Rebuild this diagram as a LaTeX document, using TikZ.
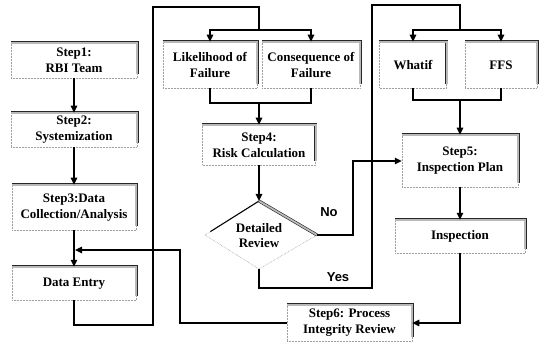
\documentclass[tikz,border=0pt]{standalone}
\usepackage{fontspec}
\setmainfont{Liberation Serif}
\newfontfamily\labfont{Liberation Sans}
\usetikzlibrary{arrows.meta,calc}
\tikzset{
  boxs/.style={rectangle, draw=gray!75, densely dotted, line width=0.5pt, align=center,
    inner sep=0pt, font=\bfseries\fontsize{13}{16}\selectfont},
  bar/.style={draw=black!85, line width=0.6pt, double=gray!55, double distance=1.8pt, solid},
  lin/.style={draw=black, line width=1.3pt, line join=miter},
  arr/.style={lin, -{Triangle[length=7pt,width=6.5pt]}},
  lab/.style={font=\labfont\bfseries\fontsize{13}{15}\selectfont}
}
\begin{document}
\begin{tikzpicture}[x=1pt,y=-1pt]
\useasboundingbox (0,0) rectangle (545,347);
% boxes
\node[boxs, minimum width=126pt, minimum height=35pt] (s1) at (74,60.5) {Step1:\\RBI Team};
\node[boxs, minimum width=126pt, minimum height=34pt] (s2) at (74,130) {Step2:\\Systemization};
\node[boxs, minimum width=124pt, minimum height=45pt] (s3) at (74,207.5) {Step3:Data\\Collection/Analysis};
\node[boxs, minimum width=124pt, minimum height=33pt] (de) at (74,283.5) {Data Entry};
\node[boxs, minimum width=94pt, minimum height=46pt] (lof) at (210,65) {Likelihood of\\Failure};
\node[boxs, minimum width=98pt, minimum height=46pt] (cof) at (311,65) {Consequence of\\Failure};
\node[boxs, minimum width=113pt, minimum height=40pt] (s4) at (259,145) {Step4:\\Risk Calculation};
\node[boxs, minimum width=67pt, minimum height=46pt] (wi) at (413,65) {Whatif};
\node[boxs, minimum width=72pt, minimum height=46pt] (ffs) at (501,65) {FFS};
\node[boxs, minimum width=116pt, minimum height=52pt] (s5) at (460,161) {Step5:\\Inspection Plan};
\node[boxs, minimum width=130pt, minimum height=33pt] (insp) at (460,236.5) {Inspection};
\node[boxs, minimum width=125pt, minimum height=36pt] (s6) at (349.5,323) {Step6: Process\\Integrity Review};
\foreach \n in {s1,s2,s3,de,lof,cof,s4,wi,ffs,s5,insp,s6}{
  \draw[bar] (\n.north west) -- (\n.north east) -- ([yshift=4pt]\n.south east);
}
% decision diamond
\coordinate (dT) at (259,201);
\coordinate (dL) at (205,235);
\coordinate (dR) at (317,235);
\coordinate (dB) at (259,269);
\node[font=\bfseries\fontsize{13}{15}\selectfont, align=center] (dr) at (259,236) {Detailed\\Review};
\draw[draw=gray!75, densely dotted, line width=0.6pt] (dL) -- (dB) -- (dR);
\draw[draw=gray!75, densely dotted, line width=0.6pt] (dL) -- ($(dL)!0.1!(dT)$);
\draw[lin, line width=1.1pt] ($(dL)!0.1!(dT)$) -- (dT);
\draw[bar] (dT) -- (dR);
% junction coordinates
\coordinate (loopA) at (153,325);
\coordinate (topA) at (259,7);
\coordinate (jLC) at (259,30);
\coordinate (jLC2) at (259,103);
\coordinate (noA) at (353,235);
\coordinate (yesA) at (372,288);
\coordinate (topB) at (460,5);
\coordinate (jWF) at (460,30);
\coordinate (jWF2) at (460,100);
\coordinate (j6) at (180,250);
\coordinate (jDE) at (75,250);
% connectors left column
\draw[arr] (s1) -- (s2);
\draw[arr] (s2) -- (s3);
\draw[arr] (s3) -- (de);
\draw[lin] (de.south) |- (loopA) |- (topA) -- (jLC);
\draw[arr] (jLC) -| (lof.north);
\draw[arr] (jLC) -| (cof.north);
\draw[lin] (lof.south) |- (jLC2);
\draw[lin] (cof.south) |- (jLC2);
\draw[arr] (jLC2) -- (s4.north);
\draw[arr] (s4.south) -- (dT);
% No branch
\draw[arr] (dR) -- (noA) |- (s5.west);
\node[lab] (no) at (329,212) {No};
% Yes branch
\draw[lin] (dB) |- (yesA) |- (topB) -- (jWF);
\node[lab] (yes) at (338,277) {Yes};
\draw[arr] (jWF) -| (wi.north);
\draw[arr] (jWF) -| (ffs.north);
\draw[lin] (wi.south) |- (jWF2);
\draw[lin] (ffs.south) |- (jWF2);
\draw[arr] (jWF2) -- (s5.north);
\draw[arr] (s5.south) -- (insp.north);
\draw[arr] (insp.south) |- (s6.east);
\draw[arr] (s6.west) -| (j6) -- (jDE);
\end{tikzpicture}
\end{document}
